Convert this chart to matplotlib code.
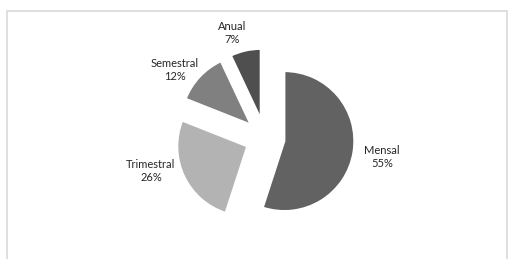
import matplotlib
matplotlib.use('Agg')
import matplotlib.pyplot as plt
from matplotlib.patches import Rectangle

# data
labels = ['Mensal', 'Trimestral', 'Semestral', 'Anual']
shares = [55, 26, 12, 7]
colors = ['#626262', '#b3b3b3', '#808080', '#4f4f4f']

# label spots (pixels, y measured from the top of the image)
label_pos = [(382, 157), (151, 171), (175, 70), (232, 33)]

W, H = 512, 259
R = 70  # pie radius in pixels
fig = plt.figure(figsize=(W / 100, H / 100), dpi=100)
ax = fig.add_axes([0, 0, 1, 1])

# explode is in data units here, so scale it by the radius
ax.pie(shares, colors=colors, startangle=90, counterclock=False,
       explode=[0.28 * R] * len(shares), center=(265, H - 138), radius=R,
       wedgeprops=dict(edgecolor='white', linewidth=1.5))

# pie() rescales the axes, so fix the pixel frame afterwards
ax.set_xlim(0, W)
ax.set_ylim(0, H)
ax.set_aspect('equal')
ax.axis('off')

# chart frame, its bottom runs off the picture
ax.add_patch(Rectangle((7, -5), 500, H - 11 + 5, fill=False,
                       edgecolor='#d9d9d9', linewidth=1.2))

for name, val, (x, y) in zip(labels, shares, label_pos):
    ax.text(x, H - y, f'{name}\n{val}%', ha='center', va='center',
            fontsize=8, family='Lato', color='#262626', linespacing=1.2)

fig.savefig('out.png', dpi=100)
